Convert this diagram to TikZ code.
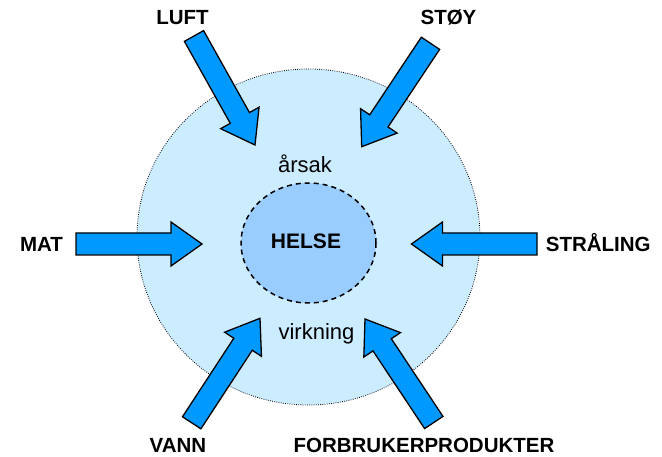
\documentclass[tikz,border=0pt]{standalone}
\usepackage{fontspec}
\setmainfont{Liberation Sans}
\usetikzlibrary{calc}
\definecolor{outerfill}{RGB}{204,236,255}
\definecolor{innerfill}{RGB}{153,204,255}
\definecolor{arrowfill}{RGB}{0,153,255}
\tikzset{
  lbl/.style={font=\fontsize{20.5}{24}\selectfont\bfseries, inner sep=0pt, anchor=base},
  txt/.style={font=\fontsize{22}{26}\selectfont, inner sep=0pt, anchor=base},
  arr/.style={fill=arrowfill, draw=black, line width=1.3pt, line join=miter},
  outerc/.style={fill=outerfill, draw=black, line width=0.8pt, dash pattern=on 0.8pt off 1.4pt},
  innerc/.style={fill=innerfill, draw=black, line width=1.5pt, dash pattern=on 5pt off 4pt}
}
\newcommand\blockarrow[2]{%
  \coordinate (h) at ($(#2)!31pt!(#1)$);
  \filldraw[arr] ($(#1)!11pt!90:(#2)$) -- ($(h)!11pt!90:(#2)$) -- ($(h)!22pt!90:(#2)$)
    -- (#2) -- ($(h)!22pt!-90:(#2)$) -- ($(h)!11pt!-90:(#2)$) -- ($(#1)!11pt!-90:(#2)$) -- cycle;
}
\begin{document}
\begin{tikzpicture}[x=1pt,y=-1pt]
\useasboundingbox[fill=white] (0,0) rectangle (662,457);
% circles
\path[outerc] (308.5,237) ellipse [x radius=171.5pt, y radius=168pt];
\path[innerc] (308.5,243) ellipse [x radius=67.5pt, y radius=60pt];
% texts inside
\node[txt] (arsak) at (305,172.7) {årsak};
\node[lbl, font=\fontsize{21}{25}\selectfont\bfseries] (helse) at (306,249) {HELSE};
\node[txt] (virkning) at (316.5,339.3) {virkning};
% outer labels
\node[lbl] (luft) at (182.5,25) {LUFT};
\node[lbl] (stoy) at (448.5,25) {STØY};
\node[lbl] (mat) at (41.5,252) {MAT};
\node[lbl] (straling) at (598.3,251.7) {STRÅLING};
\node[lbl] (vann) at (178,452) {VANN};
\node[lbl] (forbruker) at (424,452) {FORBRUKERPRODUKTER};
% arrow end points
\coordinate (luftT) at (194,36);   \coordinate (luftP) at (255,145);
\coordinate (stoyT) at (430.5,43.3); \coordinate (stoyP) at (361.7,146.7);
\coordinate (matT) at (76,244);    \coordinate (matP) at (202,244);
\coordinate (strT) at (537,244);   \coordinate (strP) at (411.5,244);
\coordinate (vannT) at (191.7,422.8); \coordinate (vannP) at (260,318.3);
\coordinate (forT) at (433.8,422.5); \coordinate (forP) at (365,319);
\blockarrow{luftT}{luftP}
\blockarrow{stoyT}{stoyP}
\blockarrow{matT}{matP}
\blockarrow{strT}{strP}
\blockarrow{vannT}{vannP}
\blockarrow{forT}{forP}
\end{tikzpicture}
\end{document}
